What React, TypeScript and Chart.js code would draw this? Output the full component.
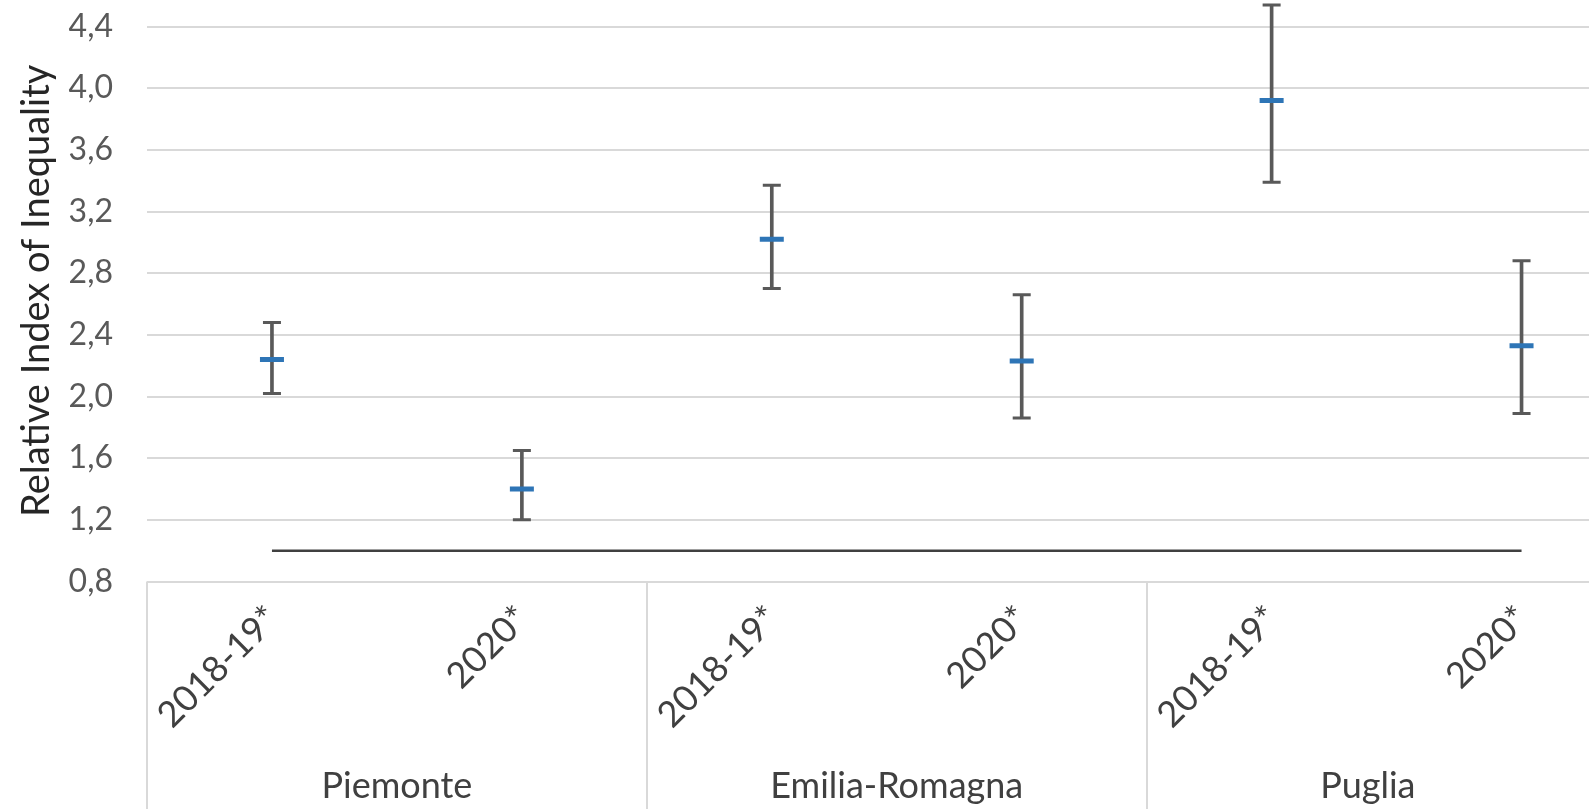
import React, { useEffect, useRef } from 'react';
import { Chart, registerables } from 'chart.js';

Chart.register(...registerables);

// ---- data ----
const groups = ['Piemonte', 'Emilia-Romagna', 'Puglia'];
const periods = ['2018-19*', '2020*'];
const categories = [
  'Piemonte 2018-19*',
  'Piemonte 2020*',
  'Emilia-Romagna 2018-19*',
  'Emilia-Romagna 2020*',
  'Puglia 2018-19*',
  'Puglia 2020*',
];
const riiValues = [2.24, 1.4, 3.02, 2.23, 3.92, 2.33];
const ciLower = [2.02, 1.2, 2.7, 1.86, 3.39, 1.89];
const ciUpper = [2.48, 1.65, 3.37, 2.66, 4.54, 2.88];
const referenceValues = [1, 1, 1, 1, 1, 1];
const yTicks = [0.8, 1.2, 1.6, 2.0, 2.4, 2.8, 3.2, 3.6, 4.0, 4.4];

const FONT = 'Lato';
const CANVAS_W = 1660;
const CANVAS_H = 809;

const labelsPlugin = {
  id: 'multiLevelLabels',
  afterDraw(chart: any) {
    const ctx = chart.ctx;
    const x = chart.scales.x;
    const area = chart.chartArea;
    const visibleRight = Math.min(window.innerWidth || CANVAS_W, CANVAS_W);
    ctx.save();
    // separators
    ctx.strokeStyle = '#d9d9d9';
    ctx.lineWidth = 2;
    for (let g = 0; g <= groups.length; g++) {
      const px = Math.round(x.getPixelForValue(g * periods.length - 0.5));
      ctx.beginPath();
      ctx.moveTo(px, area.bottom);
      ctx.lineTo(px, CANVAS_H);
      ctx.stroke();
    }
    // rotated period labels
    ctx.fillStyle = '#404040';
    ctx.font = `36px ${FONT}`;
    for (let i = 0; i < categories.length; i++) {
      const cx = x.getPixelForValue(i);
      ctx.save();
      ctx.translate(cx + 1, area.bottom + 31);
      ctx.rotate(-Math.PI / 4);
      ctx.textAlign = 'right';
      ctx.textBaseline = 'middle';
      ctx.fillText(periods[i % periods.length], 0, 0);
      ctx.restore();
    }
    // group labels (centred in the visible part of each group)
    ctx.textAlign = 'center';
    ctx.textBaseline = 'alphabetic';
    for (let g = 0; g < groups.length; g++) {
      const l = x.getPixelForValue(g * periods.length - 0.5);
      const r = Math.min(x.getPixelForValue(g * periods.length + periods.length - 0.5), visibleRight);
      ctx.fillText(groups[g], (l + r) / 2, area.bottom + 216);
    }
    ctx.restore();
  },
};

export default function App() {
  const ref = useRef<HTMLCanvasElement | null>(null);
  useEffect(() => {
    if (!ref.current) return;
    const chart = new Chart(ref.current, {
      type: 'bar',
      data: {
        labels: categories,
        datasets: [
          {
            type: 'line',
            label: 'Reference',
            data: referenceValues,
            borderColor: '#404040',
            borderWidth: 2.5,
            pointRadius: 0,
            order: 5,
          } as any,
          {
            type: 'bar',
            label: 'CI',
            data: ciLower.map((l, i) => [l, ciUpper[i]]),
            backgroundColor: '#595959',
            borderWidth: 0,
            barThickness: 3,
            order: 4,
          } as any,
          {
            type: 'line',
            label: 'Lower',
            data: ciLower,
            showLine: false,
            pointStyle: 'line',
            pointRadius: 9,
            pointBorderWidth: 3,
            pointBorderColor: '#595959',
            order: 3,
          } as any,
          {
            type: 'line',
            label: 'Upper',
            data: ciUpper,
            showLine: false,
            pointStyle: 'line',
            pointRadius: 9,
            pointBorderWidth: 3,
            pointBorderColor: '#595959',
            order: 2,
          } as any,
          {
            type: 'line',
            label: 'RII',
            data: riiValues,
            showLine: false,
            pointStyle: 'line',
            pointRadius: 12,
            pointBorderWidth: 5,
            pointBorderColor: '#2E75B6',
            order: 1,
          } as any,
        ],
      },
      options: {
        responsive: false,
        animation: false,
        devicePixelRatio: 1,
        layout: {
          autoPadding: false,
          padding: { top: 0, left: 0, right: CANVAS_W - 1646.5, bottom: CANVAS_H - 581.5 },
        },
        plugins: { legend: { display: false }, tooltip: { enabled: false } },
        scales: {
          x: { type: 'category', display: false, offset: true },
          y: {
            min: 0.8,
            max: 4.572,
            afterBuildTicks: (s: any) => {
              s.ticks = yTicks.map((v) => ({ value: v }));
            },
            afterFit: (s: any) => {
              s.width = 147;
              s.paddingTop = 0;
              s.paddingBottom = 0;
            },
            border: { display: false },
            grid: { color: '#d9d9d9', lineWidth: 2, drawTicks: false },
            ticks: {
              padding: 34,
              color: '#595959',
              font: { family: FONT, size: 32 },
              callback: (v: any) => Number(v).toFixed(1).replace('.', ','),
            },
            title: {
              display: true,
              text: 'Relative Index of Inequality',
              color: '#262626',
              font: { family: FONT, size: 38 },
              padding: { top: 14, bottom: 0 },
            },
          },
        },
      } as any,
      plugins: [labelsPlugin],
    });
    return () => chart.destroy();
  }, []);
  return (
    <div
      style={{
        position: 'fixed',
        left: 0,
        top: 0,
        width: '100vw',
        height: '100vh',
        overflow: 'hidden',
        background: '#fff',
      }}
    >
      <canvas ref={ref} width={CANVAS_W} height={CANVAS_H} style={{ display: 'block' }} />
    </div>
  );
}
